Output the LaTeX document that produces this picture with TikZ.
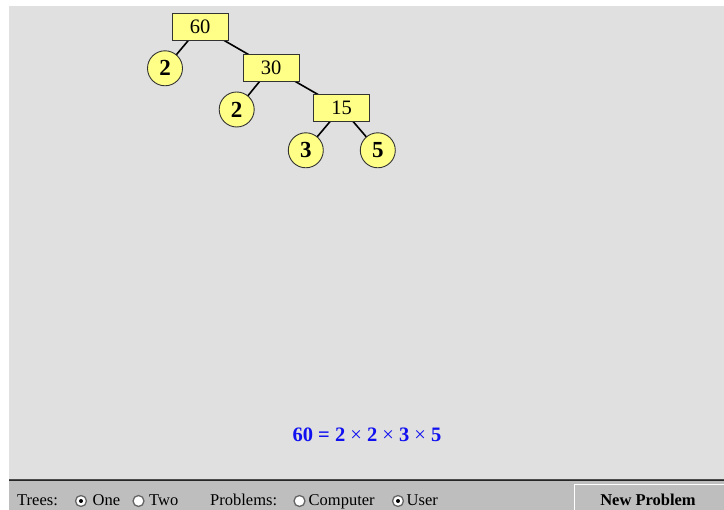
\documentclass[tikz,border=0pt]{standalone}
\usepackage{fontspec}
\setmainfont{Liberation Serif}
\definecolor{panel}{HTML}{E0E0E0}
\definecolor{barbg}{HTML}{BEBEBE}
\definecolor{factorfill}{HTML}{FFFF88}
\definecolor{eqblue}{HTML}{1010F0}
\pgfdeclarelayer{bg}
\pgfdeclarelayer{lines}
\pgfsetlayers{bg,lines,main}
\tikzset{
  composite/.style={draw=black!80, line width=0.9pt, fill=factorfill,
    minimum width=56pt, minimum height=27pt, inner sep=0pt,
    font=\fontsize{20.5}{20.5}\selectfont},
  prime/.style={circle, draw=black!80, line width=0.9pt, fill=factorfill,
    minimum size=35pt, inner sep=0pt, font=\fontsize{23}{23}\selectfont\bfseries},
  branch/.style={line width=1.6pt, black},
  bartext/.style={anchor=base west, inner sep=0pt, font=\fontsize{16.5}{16.5}\selectfont},
  radio/.style={circle, fill=white, draw=black!60, line width=1.3pt,
    minimum size=11pt, inner sep=0pt},
}
\begin{document}
\begin{tikzpicture}[x=1pt, y=-1pt]
\useasboundingbox (0,0) rectangle (724,510);
\begin{pgfonlayer}{bg}
\fill[white] (0,0) rectangle (724,510);
% work area
\fill[panel] (9,6) rectangle (724,479);
% control bar
\fill[black!70] (9,479) rectangle (724,480);
\fill[black!85] (9,480) rectangle (724,481.5);
\fill[barbg] (9,481.5) rectangle (724,510);
% button bevel
\draw[white, line width=1.2pt] (574.5,510) -- (574.5,484.5) -- (724,484.5);
\end{pgfonlayer}

% factor tree
\node[composite] (n60) at (200,26.5) {60};
\node[composite] (n30) at (271,67.5) {30};
\node[composite] (n15) at (341.5,108) {15};
\node[prime] (p2a) at (165,68.3) {2};
\node[prime] (p2b) at (236.7,109.5) {2};
\node[prime] (p3) at (305.8,150.3) {3};
\node[prime] (p5) at (377.8,150.3) {5};
\begin{pgfonlayer}{lines}
\draw[branch] (n60.center) -- (p2a.center);
\draw[branch] (n60.center) -- (n30.center);
\draw[branch] (n30.center) -- (p2b.center);
\draw[branch] (n30.center) -- (n15.center);
\draw[branch] (n15.center) -- (p3.center);
\draw[branch] (n15.center) -- (p5.center);
\end{pgfonlayer}

% result
\node[text=eqblue, font=\fontsize{20.5}{20.5}\selectfont, inner sep=0pt] (eq) at (367,435)
  {\textbf{60 = 2} × \textbf{2} × \textbf{3} × \textbf{5}};

% controls
\node[bartext] (trees) at (17,506) {Trees:};
\node[radio] (r1) at (81,501) {};
\fill (r1) circle (2pt);
\node[bartext] (one) at (92.5,506) {One};
\node[radio] (r2) at (138.5,501) {};
\node[bartext] (two) at (149,506) {Two};
\node[bartext] (problems) at (210,506) {Problems:};
\node[radio] (r3) at (299.5,501) {};
\node[bartext] (computer) at (308.5,506) {Computer};
\node[radio] (r4) at (398,501) {};
\fill (r4) circle (2pt);
\node[bartext] (user) at (406.5,506) {User};
\node[anchor=base, inner sep=0pt, font=\fontsize{16.5}{16.5}\selectfont\bfseries] (newp) at (648,506) {New Problem};
\end{tikzpicture}
\end{document}
